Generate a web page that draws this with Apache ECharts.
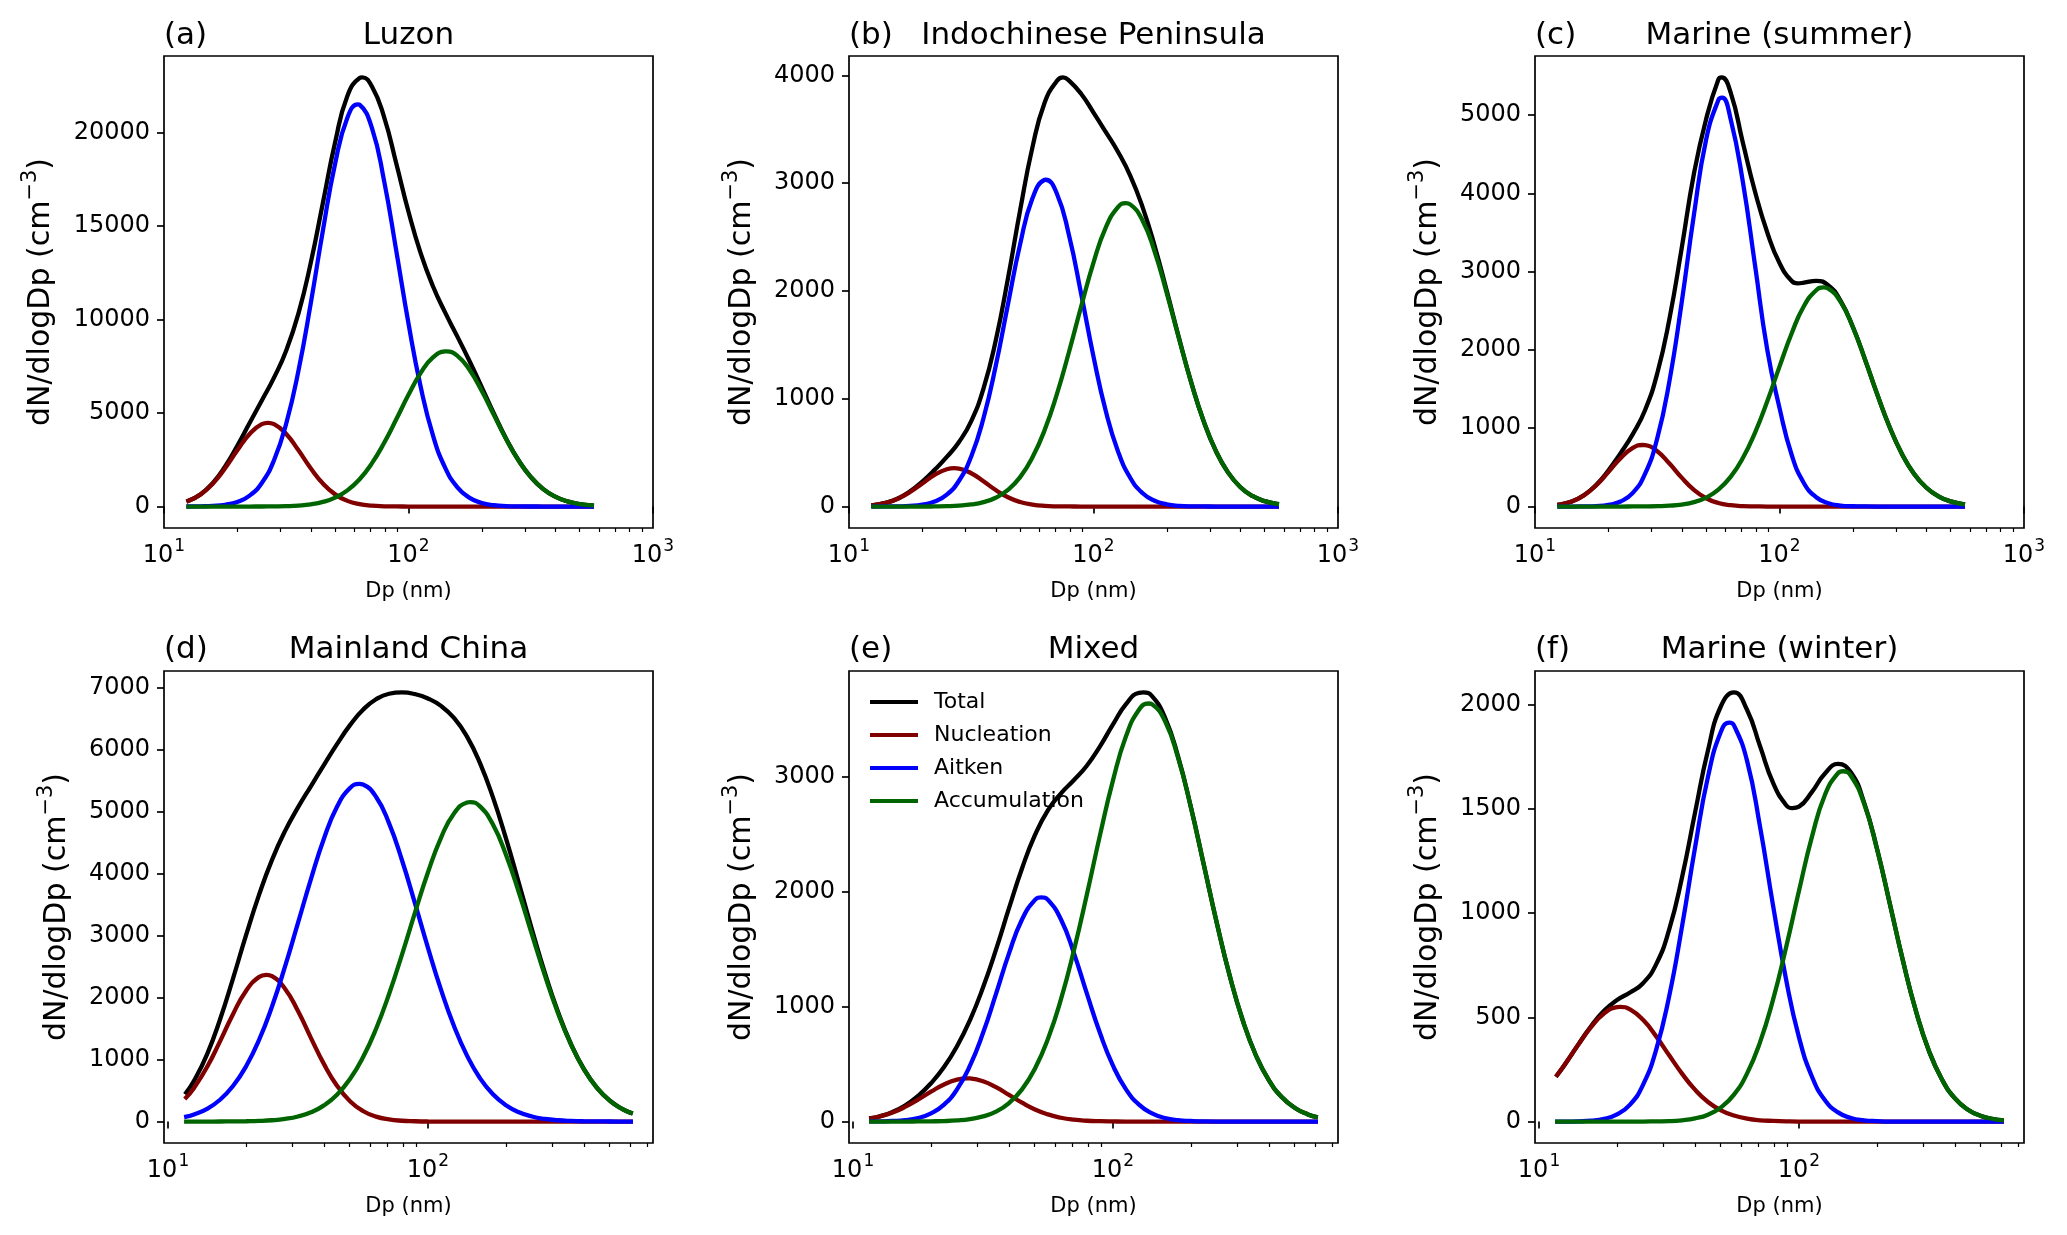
<!DOCTYPE html>
<html>
<head>
<meta charset="utf-8">
<script src="https://cdn.jsdelivr.net/npm/echarts@6/dist/echarts.min.js"></script>
<style>
html,body{margin:0;padding:0;background:#ffffff;}
#chart{width:2067px;height:1235px;}
</style>
</head>
<body>
<div id="chart"></div>
<script>
// ---------------- data ----------------
const dpTop = [12.59,14.13,15.85,17.78,19.95,22.39,25.12,28.18,31.62,35.48,39.81,44.67,50.12,56.23,63.10,70.79,79.43,89.13,100,112.2,125.9,141.3,158.5,177.8,199.5,223.9,251.2,281.8,316.2,354.8,398.1,446.7,501.2,562.3];
const dpBottom = [11.75,12.59,14.13,15.85,17.78,19.95,22.39,25.12,28.18,31.62,35.48,39.81,44.67,50.12,56.23,63.10,70.79,79.43,89.13,100,112.2,125.9,141.3,158.5,177.8,199.5,223.9,251.2,281.8,316.2,354.8,398.1,446.7,501.2,562.3,602.6];

// (a) Luzon
const luzonTotal = [306,662,1265,2147,3254,4467,5673,6896,8347,10331,13020,16251,19480,21962,22920,22480,20842,18348,15768,13541,11781,10369,9088,7771,6371,4948,3616,2475,1584,947,528,275,134,61];
const luzonNucleation = [303,651,1231,2051,3007,3881,4409,4409,3881,3007,2051,1231,651,303,124,45,14,4,1,0,0,0,0,0,0,0,0,0,0,0,0,0,0,0];
const luzonAitken = [3,11,34,96,247,585,1261,2478,4444,7271,10851,14774,18351,20793,21492,20265,17431,13679,9790,6394,3808,2069,1026,464,191,72,25,8,2,1,0,0,0,0];
const luzonAccumulation = [0,0,0,0,0,1,3,9,22,53,118,246,478,866,1463,2308,3397,4665,5977,7147,7973,8300,8062,7307,6180,4876,3591,2467,1582,946,528,275,134,61];
// extra points (peaks / dips) for total, nucleation, aitken, accumulation
const luzonExtraDp = [[64.57],[26.61],[62.09],[142.6]];
const luzonExtraValue = [[22950],[4480],[21511],[8302]];

// (b) Indochinese Peninsula
const indochinaTotal = [14,35,75,141,232,340,460,599,793,1094,1538,2114,2749,3329,3745,3947,3951,3827,3654,3475,3291,3070,2782,2419,1998,1561,1149,796,518,317,182,98,50,24];
const indochinaNucleation = [14,34,73,135,214,293,346,352,309,234,153,86,42,18,6,2,1,0,0,0,0,0,0,0,0,0,0,0,0,0,0,0,0,0];
const indochinaAitken = [0,1,2,6,18,46,111,239,465,819,1303,1874,2434,2857,3030,2904,2514,1967,1391,888,513,267,126,54,21,7,2,1,0,0,0,0,0,0];
const indochinaAccumulation = [0,0,0,0,0,1,3,8,19,41,82,154,273,454,709,1041,1436,1860,2263,2587,2778,2803,2656,2365,1977,1554,1147,795,518,317,182,98,50,24];
const indochinaExtraDp = [[74.99],[26.98],[63.68],[135.5]];
const indochinaExtraValue = [[3980],[356],[3031],[2814]];

// (c) Marine (summer)
const marineSummerTotal = [26,65,145,276,461,682,925,1230,1700,2400,3300,4250,4950,5454,5290,4650,4020,3500,3110,2880,2859,2882,2825,2627,2296,1876,1431,1019,677,420,243,131,66,31];
const marineSummerNucleation = [26,65,143,270,440,618,750,784,707,549,369,213,106,46,17,5,2,0,0,0,0,0,0,0,0,0,0,0,0,0,0,0,0,0];
const marineSummerAitken = [0,0,2,6,21,64,174,416,871,1606,2607,3726,4688,5192,4950,4150,3080,2000,1260,658,298,119,42,13,4,1,0,0,0,0,0,0,0,0];
const marineSummerAccumulation = [0,0,0,0,0,0,1,2,5,11,26,57,115,216,379,619,945,1345,1787,2214,2561,2763,2783,2614,2292,1875,1431,1019,677,420,243,131,66,31];
const marineSummerExtraDp = [[58.0,118.9],[27.54],[58.21],[151.4]];
const marineSummerExtraValue = [[5480,2851],[786],[5222],[2798]];

// (d) Mainland China
const chinaTotal = [468,658,1086,1648,2310,3005,3661,4227,4690,5073,5419,5760,6095,6402,6651,6820,6909,6930,6903,6833,6713,6518,6217,5790,5235,4573,3845,3102,2398,1774,1254,846,545,336,197,140];
const chinaNucleation = [389,543,880,1295,1734,2110,2334,2347,2146,1784,1348,927,579,329,170,80,34,13,5,1,0,0,0,0,0,0,0,0,0,0,0,0,0,0,0,0];
const chinaAitken = [79,115,206,352,574,890,1317,1859,2501,3207,3921,4572,5083,5387,5444,5245,4819,4220,3524,2806,2130,1542,1064,700,439,263,150,81,42,21,10,4,2,1,0,0];
const chinaAccumulation = [0,0,0,1,2,5,10,21,43,82,150,261,433,686,1037,1495,2056,2697,3374,4026,4583,4976,5153,5090,4796,4310,3695,3021,2356,1753,1244,842,543,335,197,140];
const chinaExtraDp = [[],[23.88],[54.45],[145.2]];
const chinaExtraValue = [[],[2369],[5454],[5160]];

// (e) Mixed
const mixedTotal = [30,44,82,139,223,333,474,655,883,1166,1497,1857,2203,2495,2711,2857,2973,3099,3266,3457,3633,3732,3703,3517,3181,2735,2228,1722,1261,875,575,358,211,118,62,41];
const mixedNucleation = [29,43,77,127,191,260,323,365,375,351,299,232,164,105,62,33,16,7,3,1,0,0,0,0,0,0,0,0,0,0,0,0,0,0,0,0];
const mixedAitken = [1,1,5,12,31,71,147,280,486,770,1111,1464,1759,1929,1929,1759,1464,1111,770,486,280,147,71,31,12,5,1,0,0,0,0,0,0,0,0,0];
const mixedAccumulation = [0,0,0,0,1,2,4,10,22,45,87,161,280,461,720,1065,1493,1981,2493,2970,3353,3585,3632,3486,3169,2730,2227,1722,1261,875,575,358,211,118,62,41];
const mixedExtraDp = [[130.9],[27.54],[53.09],[137.1]];
const mixedExtraValue = [[3735],[376],[1951],[3639]];

// (f) Marine (winter)
const marineWinterTotal = [223,275,368,457,531,583,619,664,753,918,1171,1481,1782,1994,2059,1976,1802,1626,1519,1511,1582,1670,1716,1675,1533,1310,1042,771,530,339,202,111,57,27,12,7];
const marineWinterNucleation = [223,275,367,453,518,549,538,488,410,319,230,153,94,54,29,14,6,3,1,0,0,0,0,0,0,0,0,0,0,0,0,0,0,0,0,0];
const marineWinterAitken = [0,0,1,4,13,34,81,176,342,597,935,1313,1655,1872,1901,1732,1416,1039,684,404,215,102,44,17,6,2,0,0,0,0,0,0,0,0,0,0];
const marineWinterAccumulation = [0,0,0,0,0,0,0,0,1,2,6,15,33,68,129,230,380,584,834,1107,1367,1568,1672,1658,1527,1308,1042,771,530,339,202,111,57,27,12,7];
const marineWinterExtraDp = [[94.41],[20.51],[53.95],[147.6]];
const marineWinterExtraValue = [[1504],[550],[1914],[1681]];

const panelLetters = ['(a)','(b)','(c)','(d)','(e)','(f)'];
const panelTitles = ['Luzon','Indochinese Peninsula','Marine (summer)','Mainland China','Mixed','Marine (winter)'];
const seriesNames = ['Total','Nucleation','Aitken','Accumulation'];
const yTicksLuzon = [0,5000,10000,15000,20000];
const yTicksIndochina = [0,1000,2000,3000,4000];
const yTicksMarineSummer = [0,1000,2000,3000,4000,5000];
const yTicksChina = [0,1000,2000,3000,4000,5000,6000,7000];
const yTicksMixed = [0,1000,2000,3000];
const yTicksMarineWinter = [0,500,1000,1500,2000];
const xMajorTicks = [10,100,1000];
const xMinorTicks = [20,30,40,50,60,70,80,90,200,300,400,500,600,700,800,900];
const xRangeTop = [10,1000];

// ---------------- layout / style ----------------
const colors = ['#000000','#800000','#0000ff','#006400'];
const FONT = 'DejaVu Sans';
const colLeft = [164, 849, 1535];
const rowTop = [56, 671];
const gridW = 489, gridH = 472;

const panels = [
  {dp: dpTop, s: [luzonTotal, luzonNucleation, luzonAitken, luzonAccumulation], ex: [luzonExtraDp, luzonExtraValue], yt: yTicksLuzon, top: true},
  {dp: dpTop, s: [indochinaTotal, indochinaNucleation, indochinaAitken, indochinaAccumulation], ex: [indochinaExtraDp, indochinaExtraValue], yt: yTicksIndochina, top: true},
  {dp: dpTop, s: [marineSummerTotal, marineSummerNucleation, marineSummerAitken, marineSummerAccumulation], ex: [marineSummerExtraDp, marineSummerExtraValue], yt: yTicksMarineSummer, top: true},
  {dp: dpBottom, s: [chinaTotal, chinaNucleation, chinaAitken, chinaAccumulation], ex: [chinaExtraDp, chinaExtraValue], yt: yTicksChina, top: false},
  {dp: dpBottom, s: [mixedTotal, mixedNucleation, mixedAitken, mixedAccumulation], ex: [mixedExtraDp, mixedExtraValue], yt: yTicksMixed, top: false},
  {dp: dpBottom, s: [marineWinterTotal, marineWinterNucleation, marineWinterAitken, marineWinterAccumulation], ex: [marineWinterExtraDp, marineWinterExtraValue], yt: yTicksMarineWinter, top: false}
];

const grids = [], xAxes = [], yAxes = [], series = [], titles = [];
const tickRich = {
  b: {fontSize: 24, fontFamily: FONT, color: '#000', lineHeight: 30, verticalAlign: 'bottom'},
  s: {fontSize: 17, fontFamily: FONT, color: '#000', lineHeight: 30, verticalAlign: 'top', padding: [0, 0, 0, 1]}
};
const nameRich = {
  b: {fontSize: 30, fontFamily: FONT, color: '#000', lineHeight: 36, verticalAlign: 'bottom'},
  s: {fontSize: 21, fontFamily: FONT, color: '#000', lineHeight: 36, verticalAlign: 'top'}
};

panels.forEach((p, i) => {
  const col = i % 3, row = Math.floor(i / 3);
  const left = colLeft[col], top = rowTop[row];
  grids.push({left: left, top: top, width: gridW, height: gridH, show: true,
    borderColor: '#000', borderWidth: 1.7, backgroundColor: 'transparent', containLabel: false});

  let xmin, xmax;
  if (p.top) { xmin = xRangeTop[0]; xmax = xRangeTop[1]; }
  else {
    const l0 = Math.log10(p.dp[0]), l1 = Math.log10(p.dp[p.dp.length - 1]);
    const m = 0.05 * (l1 - l0);
    xmin = Math.pow(10, l0 - m); xmax = Math.pow(10, l1 + m);
  }
  const inR = v => v >= xmin * 0.9999 && v <= xmax * 1.0001;
  const major = xMajorTicks.filter(inR);
  const minor = xMinorTicks.filter(inR);

  xAxes.push({
    type: 'log', logBase: 10, gridIndex: i, min: xmin, max: xmax, position: 'bottom',
    axisLine: {show: false}, splitLine: {show: false}, minorTick: {show: false},
    axisTick: {show: true, length: 7, lineStyle: {color: '#000', width: 1.7}, customValues: major},
    axisLabel: {show: true, customValues: major, color: '#000', fontSize: 24, fontFamily: FONT, margin: 10,
      rich: tickRich,
      formatter: v => '{b|10}{s|' + Math.round(Math.log10(v)) + '}'},
    name: 'Dp (nm)', nameLocation: 'middle', nameGap: 53,
    nameTextStyle: {color: '#000', fontSize: 21, fontFamily: FONT}
  });
  xAxes.push({
    type: 'log', logBase: 10, gridIndex: i, min: xmin, max: xmax, position: 'bottom',
    axisLine: {show: false}, splitLine: {show: false}, axisLabel: {show: false},
    axisTick: {show: true, length: 4, lineStyle: {color: '#000', width: 1.2}, customValues: minor}
  });

  const maxTotal = Math.max.apply(null, p.s[0].concat(p.ex[1][0]));
  const nDigits = String(p.yt[p.yt.length - 1]).length;
  yAxes.push({
    type: 'value', gridIndex: i, min: -0.05 * maxTotal, max: 1.05 * maxTotal,
    axisLine: {show: false}, splitLine: {show: false},
    axisTick: {show: true, length: 7, lineStyle: {color: '#000', width: 1.7}, customValues: p.yt},
    axisLabel: {customValues: p.yt, color: '#000', fontSize: 24, fontFamily: FONT, margin: 14,
      formatter: v => String(Math.round(v))},
    name: '{b|dN/dlogDp (cm}{s|\u22123}{b|)}', nameLocation: 'middle', nameRotate: 90,
    nameGap: nDigits * 15.3 + 31,
    nameTextStyle: {color: '#000', fontSize: 30, fontFamily: FONT, rich: nameRich}
  });

  p.s.forEach((vals, k) => {
    const pts = p.dp.map((d, j) => [d, vals[j]]);
    p.ex[0][k].forEach((d, j) => pts.push([d, p.ex[1][k][j]]));
    pts.sort((a, b) => a[0] - b[0]);
    series.push({
      type: 'line', name: seriesNames[k], xAxisIndex: 2 * i, yAxisIndex: i,
      data: pts,
      showSymbol: false, symbol: 'none', smooth: 0.5, clip: true,
      lineStyle: {color: colors[k], width: 4.3, cap: 'square'},
      itemStyle: {color: colors[k]},
      emphasis: {disabled: true}, silent: true, z: 2 + k
    });
  });

  const ty = row === 0 ? 20 : 634;
  titles.push({text: panelLetters[i], left: left, top: ty, padding: 0, textAlign: 'left', textVerticalAlign: 'top',
    textStyle: {color: '#000', fontSize: 31, fontWeight: 'normal', fontFamily: FONT}});
  titles.push({text: panelTitles[i], left: left + gridW / 2, top: ty, padding: 0, textAlign: 'center', textVerticalAlign: 'top',
    textStyle: {color: '#000', fontSize: 31, fontWeight: 'normal', fontFamily: FONT}});
});

const option = {
  animation: false,
  backgroundColor: '#ffffff',
  title: titles,
  legend: {
    data: seriesNames, orient: 'vertical', left: 870, top: 691, padding: 0,
    icon: 'rect', itemWidth: 48, itemHeight: 4, itemGap: 11, selectedMode: false,
    textStyle: {color: '#000', fontSize: 22, fontFamily: FONT, lineHeight: 22, padding: [0, 0, 0, 11]}
  },
  grid: grids,
  xAxis: xAxes,
  yAxis: yAxes,
  series: series
};

const chart = echarts.init(document.getElementById('chart'), null, {renderer: 'canvas', width: 2067, height: 1235});
chart.setOption(option);
</script>
</body>
</html>
